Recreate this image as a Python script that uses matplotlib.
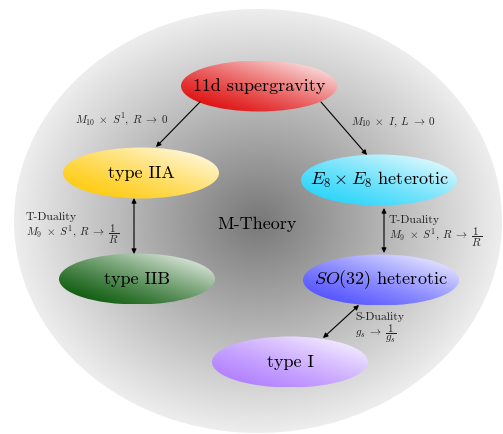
import numpy as np
import matplotlib.pyplot as plt
from matplotlib.patches import Ellipse, FancyArrowPatch
from matplotlib.colors import to_rgb

plt.rcParams['mathtext.fontset'] = 'cm'
plt.rcParams['font.family'] = ['cmr10', 'DejaVu Serif']
plt.rcParams['axes.unicode_minus'] = False

# nodes of the diagram
node_names = ["11d supergravity", "type IIA", r"$E_8\times E_8$ heterotic",
              "type IIB", r"$SO(32)$ heterotic", "type I"]
node_x = [259, 141, 379, 137, 381, 290]
node_y = [87, 174, 181, 280, 281, 363]
node_colors = ["#dd0000", "#ffc800", "#1ed2fa", "#005200", "#4a4aff", "#ad78ff"]

# edges: (from, to, both heads)
edge_pts = [((200, 103), (156, 148), False),
            ((321, 103), (367, 156), False),
            ((134, 199), (134, 255), True),
            ((384, 209), (384, 254), True),
            ((359, 306), (323, 339), True)]

edge_labels = [r"$M_{10}\;\times\;S^1,\;R\;\rightarrow\;0$",
               r"$M_{10}\;\times\;I,\;L\;\rightarrow\;0$"]
duality_names = ["T-Duality", "T-Duality", "S-Duality"]
duality_maps = [r"$M_9\;\times\;S^1,\;R\;\rightarrow\;\dfrac{1}{R}$",
                r"$M_9\;\times\;S^1,\;R\;\rightarrow\;\dfrac{1}{R}$",
                r"$g_s\;\rightarrow\;\dfrac{1}{g_s}$"]

W, H = 503, 435
fig = plt.figure(figsize=(W / 100, H / 100), dpi=100)
ax = fig.add_axes([0, 0, 1, 1])
ax.axis("off")

# big background ellipse, radial gray shading
bx, by, bw, bh = 258, 222, 488, 424
n = 300
xx, yy = np.meshgrid(np.linspace(-1, 1, n), np.linspace(-1, 1, n))
r = np.clip(np.sqrt(xx**2 + yy**2), 0, 1)
g = 0.47 + 0.46 * r
img = np.dstack([g, g, g])
bg = Ellipse((bx, by), bw, bh, facecolor="none", edgecolor="none")
ax.add_patch(bg)
im = ax.imshow(img, extent=(bx - bw / 2, bx + bw / 2, by + bh / 2, by - bh / 2),
               origin="upper", zorder=0, interpolation="bilinear")
im.set_clip_path(bg)

# node ellipses with linear shading, colour at lower left, white at upper right
ew, eh = 156, 51
u, v = np.meshgrid(np.linspace(0, 1, 200), np.linspace(1, 0, 80))
t = np.clip((u + v) / 2, 0, 1) ** 1.3
for name, x, y, c in zip(node_names, node_x, node_y, node_colors):
    rgb = np.array(to_rgb(c))
    arr = rgb[None, None, :] * (1 - t[..., None]) + t[..., None]
    e = Ellipse((x, y), ew, eh, facecolor="none", edgecolor="none", zorder=2)
    ax.add_patch(e)
    im = ax.imshow(arr, extent=(x - ew / 2, x + ew / 2, y + eh / 2, y - eh / 2),
                   origin="upper", zorder=2, interpolation="bilinear")
    im.set_clip_path(e)
    ax.text(x, y - 1, name, ha="center", va="center", fontsize=13, zorder=3)

ax.set_xlim(0, W)
ax.set_ylim(H, 0)

ax.text(257, 224, "M-Theory", ha="center", va="center", fontsize=13, zorder=3)

for p0, p1, both in edge_pts:
    style = "<|-|>" if both else "-|>"
    ax.add_patch(FancyArrowPatch(p0, p1, arrowstyle=style, mutation_scale=7,
                                 color="black", lw=0.8, shrinkA=0, shrinkB=0, zorder=4))

ax.text(122, 120, edge_labels[0], ha="center", va="center", fontsize=8, color="#222222")
ax.text(393, 122, edge_labels[1], ha="center", va="center", fontsize=8, color="#222222")

lab_x = [26, 389, 355]
lab_y = [217, 220, 317]
for name, m, x, y in zip(duality_names, duality_maps, lab_x, lab_y):
    ax.text(x, y, name, ha="left", va="center", fontsize=8.5, color="#222222")
    ax.text(x, y + 17, m, ha="left", va="center", fontsize=8, color="#222222")

fig.savefig("out.png", dpi=100)
